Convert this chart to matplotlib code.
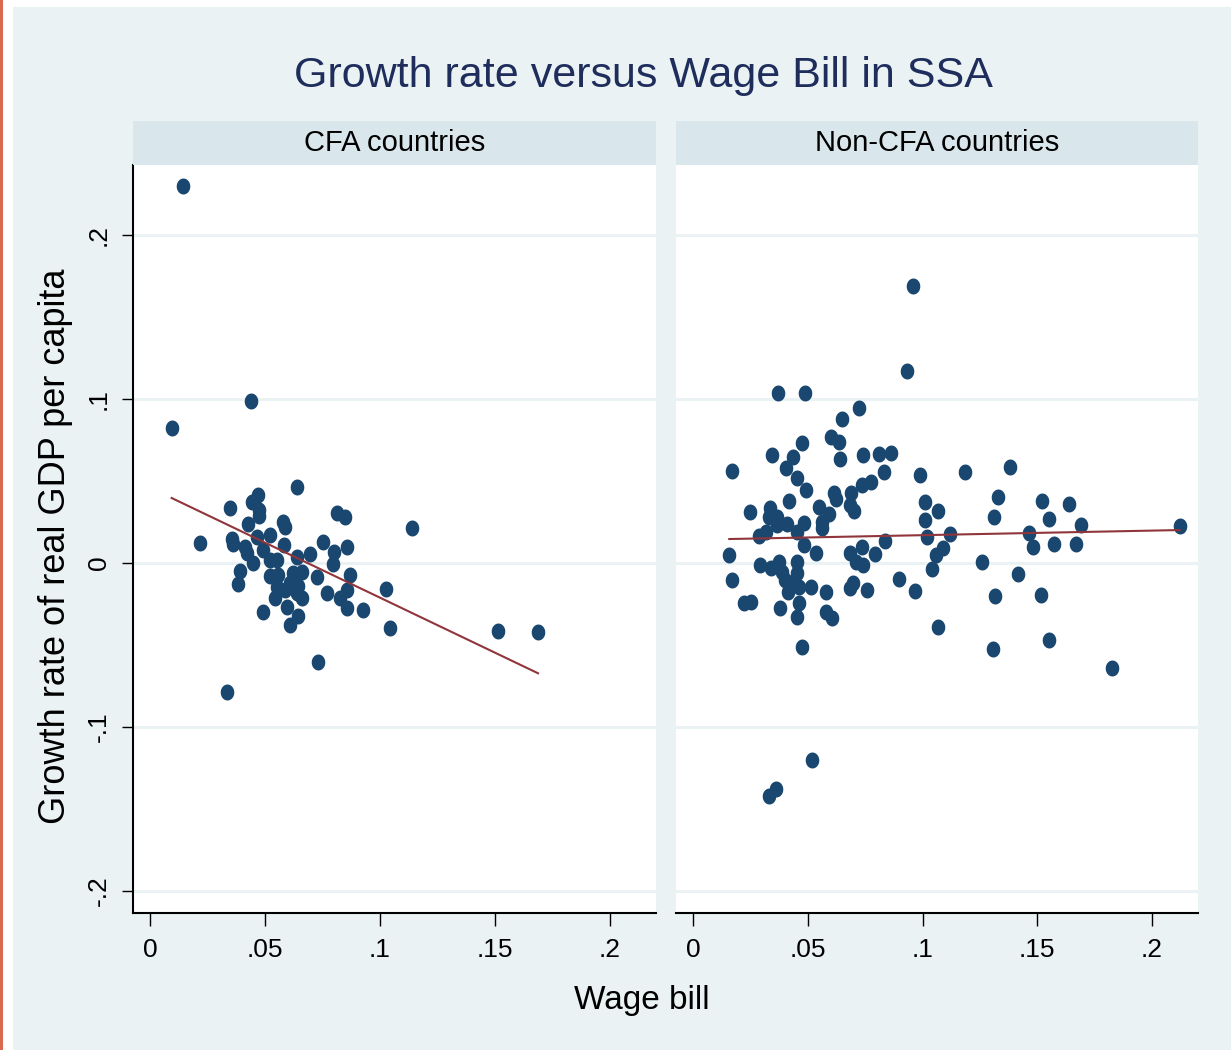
import numpy as np
import matplotlib
matplotlib.use("Agg")
import matplotlib.pyplot as plt
from matplotlib.patches import Rectangle

# CFA countries: wage bill, growth rate
cfa_wage = [0.0143, 0.0439, 0.0094, 0.0640, 0.0471, 0.0445, 0.0474, 0.0474, 0.0348, 0.0427,
            0.0580, 0.0587, 0.0814, 0.0848, 0.1140, 0.0217, 0.0355, 0.0362, 0.0464, 0.0522,
            0.0413, 0.0420, 0.0449, 0.0493, 0.0522, 0.0551, 0.0584, 0.0638, 0.0696, 0.0753,
            0.0800, 0.0797, 0.0858, 0.0391, 0.0384, 0.0522, 0.0558, 0.0623, 0.0660, 0.0727,
            0.0870, 0.0551, 0.0609, 0.0645, 0.0768, 0.0855, 0.0826, 0.0543, 0.0587, 0.0638,
            0.0662, 0.0858, 0.0927, 0.1026, 0.1043, 0.0490, 0.0594, 0.0645, 0.0609, 0.0732,
            0.0333, 0.1513, 0.1687]
cfa_growth = [0.2299, 0.0989, 0.0821, 0.0465, 0.0415, 0.0374, 0.0323, 0.0287, 0.0337, 0.0238,
              0.0252, 0.0218, 0.0307, 0.0282, 0.0212, 0.0120, 0.0145, 0.0114, 0.0160, 0.0171,
              0.0099, 0.0059, -0.0002, 0.0079, 0.0018, 0.0018, 0.0110, 0.0038, 0.0053, 0.0126,
              0.0069, -0.0006, 0.0099, -0.0047, -0.0128, -0.0079, -0.0073, -0.0063, -0.0053, -0.0084,
              -0.0073, -0.0145, -0.0124, -0.0140, -0.0181, -0.0165, -0.0215, -0.0215, -0.0165, -0.0185,
              -0.0215, -0.0273, -0.0287, -0.0159, -0.0398, -0.0301, -0.0270, -0.0323, -0.0378, -0.0605,
              -0.0785, -0.0415, -0.0421]

# Non-CFA countries
ncfa_wage = [0.0932, 0.0957, 0.0371, 0.0488, 0.0722, 0.0649, 0.0603, 0.0635, 0.0473, 0.0345,
             0.0436, 0.0640, 0.0740, 0.0810, 0.0861, 0.0171, 0.0407, 0.0832, 0.0991, 0.0451,
             0.0494, 0.0419, 0.0614, 0.0625, 0.0690, 0.0738, 0.0774, 0.0683, 0.0701, 0.0549,
             0.0593, 0.0564, 0.0564, 0.0247, 0.0335, 0.0332, 0.0364, 0.0364, 0.0410, 0.0451,
             0.0483, 0.0287, 0.0320, 0.0483, 0.0538, 0.0158, 0.0838, 0.1012, 0.1068, 0.1012,
             0.1020, 0.1120, 0.1088, 0.1060, 0.1040, 0.0683, 0.0738, 0.0791, 0.0712, 0.0740,
             0.0291, 0.0342, 0.0375, 0.0451, 0.0386, 0.0453, 0.0400, 0.0429, 0.0414, 0.0462,
             0.0512, 0.0171, 0.0223, 0.0251, 0.0381, 0.0462, 0.0455, 0.0578, 0.0581, 0.0606,
             0.0683, 0.0697, 0.0760, 0.0897, 0.0965, 0.1067, 0.0473, 0.0517, 0.0361, 0.0330,
             0.1183, 0.1383, 0.1327, 0.1519, 0.1640, 0.1312, 0.1553, 0.1691, 0.2120, 0.1462,
             0.1481, 0.1573, 0.1667, 0.1258, 0.1414, 0.1317, 0.1517, 0.1309, 0.1553, 0.1826]
ncfa_growth = [0.1173, 0.1689, 0.1035, 0.1035, 0.0947, 0.0878, 0.0770, 0.0740, 0.0730, 0.0659,
               0.0648, 0.0634, 0.0659, 0.0663, 0.0669, 0.0563, 0.0577, 0.0557, 0.0537, 0.0516,
               0.0445, 0.0380, 0.0429, 0.0388, 0.0425, 0.0476, 0.0496, 0.0354, 0.0319, 0.0343,
               0.0299, 0.0252, 0.0212, 0.0313, 0.0334, 0.0282, 0.0282, 0.0232, 0.0236, 0.0191,
               0.0242, 0.0165, 0.0189, 0.0110, 0.0059, 0.0049, 0.0136, 0.0374, 0.0319, 0.0262,
               0.0159, 0.0175, 0.0093, 0.0049, -0.0037, 0.0059, 0.0099, 0.0055, 0.0008, -0.0012,
               -0.0012, -0.0032, 0.0008, 0.0008, -0.0053, -0.0063, -0.0104, -0.0124, -0.0175, -0.0145,
               -0.0145, -0.0104, -0.0246, -0.0236, -0.0276, -0.0246, -0.0331, -0.0179, -0.0297, -0.0337,
               -0.0154, -0.0124, -0.0165, -0.0099, -0.0169, -0.0388, -0.0514, -0.1201, -0.1378, -0.1421,
               0.0557, 0.0584, 0.0404, 0.0380, 0.0360, 0.0282, 0.0270, 0.0232, 0.0226, 0.0181,
               0.0099, 0.0114, 0.0116, 0.0004, -0.0065, -0.0199, -0.0193, -0.0526, -0.0470, -0.0638]

panel_titles = ["CFA countries", "Non-CFA countries"]
xticks = [0, 0.05, 0.1, 0.15, 0.2]
xticklabels = ["0", ".05", ".1", ".15", ".2"]
yticks = [-0.2, -0.1, 0, 0.1, 0.2]
yticklabels = ["-.2", "-.1", "0", ".1", ".2"]

BG = "#EAF2F3"
STRIP = "#D9E6EB"
NAVY = "#1A476F"
MAROON = "#90353B"
FONT = ["Liberation Sans", "DejaVu Sans"]

W, H = 1231, 1050
fig = plt.figure(figsize=(W / 100, H / 100), dpi=100, facecolor="white")
fig.patches.append(Rectangle((13 / W, 0), 1 - 13 / W, 1 - 7 / H, transform=fig.transFigure,
                             facecolor=BG, edgecolor="none", zorder=-10))
fig.patches.append(Rectangle((0, 0), 3 / W, 1, transform=fig.transFigure,
                             facecolor="#D9694F", edgecolor="none", zorder=-10))

t = np.linspace(0, 2 * np.pi, 60)
ellipse = list(zip(0.85 * np.cos(t), np.sin(t)))

panels = [(133, 656, cfa_wage, cfa_growth), (676, 1198, ncfa_wage, ncfa_growth)]
top, bottom = 165, 913
for i, (x0, x1, xs, ys) in enumerate(panels):
    ax = fig.add_axes([x0 / W, 1 - bottom / H, (x1 - x0) / W, (bottom - top) / H])
    ax.set_facecolor("white")
    ax.set_xlim(-0.0074, 0.2200)
    ax.set_ylim(-0.2134, 0.2427)
    for yv in yticks:
        ax.axhline(yv, color=BG, lw=2.2, zorder=1)
    ax.plot(xs, ys, linestyle="none", marker=ellipse, markersize=11.5,
            color=NAVY, markeredgewidth=0, zorder=3)
    # linear fit over the range of x
    xs_a = np.array(xs)
    k, b = np.polyfit(xs_a, np.array(ys), 1)
    xl = np.array([xs_a.min(), xs_a.max()])
    ax.plot(xl, k * xl + b, color=MAROON, lw=1.5, zorder=4)

    for s in ["top", "right"]:
        ax.spines[s].set_visible(False)
    ax.spines["bottom"].set_linewidth(1.5)
    ax.set_xticks(xticks)
    ax.set_xticklabels(xticklabels, fontfamily=FONT, fontsize=19)
    ax.tick_params(axis="x", length=9, width=1, pad=9)
    if i == 0:
        ax.spines["left"].set_linewidth(1.5)
        ax.set_yticks(yticks)
        ax.set_yticklabels(yticklabels, fontfamily=FONT, fontsize=19,
                           rotation=90, va="center")
        ax.tick_params(axis="y", length=8, width=1, pad=8)
    else:
        ax.spines["left"].set_visible(False)
        ax.set_yticks([])

    sax = fig.add_axes([x0 / W, 1 - top / H, (x1 - x0) / W, 44 / H])
    sax.set_facecolor(STRIP)
    sax.set_xticks([])
    sax.set_yticks([])
    for s in sax.spines.values():
        s.set_visible(False)
    sax.text(0.5, 0.5, panel_titles[i], ha="center", va="center",
             fontfamily=FONT, fontsize=21, color="black")

fig.text(643 / W, 1 - 76 / H, "Growth rate versus Wage Bill in SSA", ha="center", va="center",
         fontfamily=FONT, fontsize=31, color="#1F2D5C")
fig.text(642 / W, 1 - 1000 / H, "Wage bill", ha="center", va="center",
         fontfamily=FONT, fontsize=24, color="black")
fig.text(56 / W, 1 - 546 / H, "Growth rate of real GDP per capita", ha="center", va="center",
         rotation=90, fontfamily=FONT, fontsize=26, color="black")

fig.savefig("out.png", dpi=100, facecolor="white")
